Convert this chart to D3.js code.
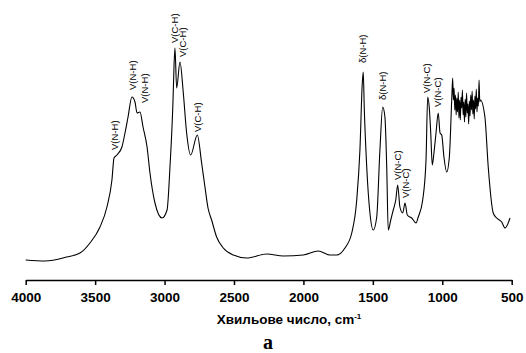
<!DOCTYPE html>
<html>
<head>
<meta charset="utf-8">
<script src="https://cdn.jsdelivr.net/npm/d3@7"></script>
<style>
  html, body { margin: 0; padding: 0; background: #fff; }
  svg { display: block; font-family: Arial, "Liberation Sans", sans-serif; }
</style>
</head>
<body>
<svg id="chart"></svg>
<script>
// wavenumber (cm-1) and relative intensity
const wavenumbers = [
  4000, 3860, 3705, 3609, 3537, 3465, 3415, 3379, 3364, 3343, 3307, 3285, 3263, 3235, 3213, 3198,
  3177, 3155, 3126, 3105, 3069, 3018, 2982, 2961, 2939, 2932, 2925, 2913, 2889, 2865, 2841, 2812,
  2764, 2733, 2709, 2687, 2661, 2625, 2577, 2505, 2408, 2264, 2145, 2001, 1893, 1809, 1760, 1701,
  1652, 1616, 1593, 1576, 1569, 1562, 1544, 1521, 1497, 1472, 1449, 1429, 1413, 1400, 1389, 1371,
  1353, 1335, 1321, 1305, 1285, 1268, 1252, 1220, 1189, 1173, 1141, 1117, 1105, 1094, 1083, 1072,
  1060, 1045, 1029, 1016, 1004, 988, 968, 949, 932, 925,
  920, 915, 910, 905, 900, 895, 890, 885, 880, 875, 870, 865, 860, 855, 850, 845, 840, 835, 830,
  825, 820, 815, 810, 805, 800, 795, 790, 785, 780, 775, 770, 765, 760, 755, 750, 745, 740, 735,
  730, 725, 693, 669, 633, 608, 572, 548, 512
];
const intensity = [
  5, 4, 8, 12, 22, 38, 58, 85, 107, 110, 118, 132, 148, 168, 163, 152,
  153, 138, 118, 92, 62, 47, 55, 98, 165, 198, 217, 177, 203, 172, 132, 110,
  130, 102, 78, 57, 45, 28, 17, 10, 7, 11, 9, 10, 14, 10, 10, 17,
  32, 65, 115, 182, 193, 158, 98, 52, 35, 48, 115, 158, 148, 98, 35, 45,
  55, 65, 80, 58, 52, 62, 50, 47, 42, 48, 65, 105, 168, 158, 132, 100,
  112, 132, 152, 132, 130, 108, 93, 108, 165, 187,
  165, 177, 155, 170, 150, 167, 153, 173, 147, 165, 145, 168, 157, 175, 150, 163, 143, 166, 148,
  172, 152, 161, 141, 164, 149, 170, 155, 174, 151, 165, 146, 169, 156, 176, 153, 167, 159, 185,
  163, 165, 148, 98, 52, 47, 43, 37, 47
];

// band assignments
const bandLabels = ["V(N-H)", "V(N-H)", "V(N-H)", "V(C-H)", "V(C-H)", "V(C-H)",
  "δ(N-H)", "δ(N-H)", "V(N-C)", "V(N-C)", "V(N-C)", "V(N-C)"];
const bandWn = [3357, 3227, 3141, 2928, 2867, 2759, 1571, 1427, 1319, 1261, 1110, 1031];
const bandY = [115, 175, 162, 222, 208, 133, 202, 165, 85, 67, 172, 158];

const xTicks = [4000, 3500, 3000, 2500, 2000, 1500, 1000, 500];

const width = 526;
const height = 353;

const svg = d3.select('#chart')
  .attr('width', width)
  .attr('height', height);

const x = d3.scaleLinear()
  .domain([4000, 500])
  .range([25.7, 511.7]);

const y = d3.scaleLinear()
  .domain([0, 250])
  .range([265, 15]);

const data = wavenumbers.map((w, i) => ({ wn: w, v: intensity[i] }));

const line = d3.line()
  .x(d => x(d.wn))
  .y(d => y(d.v))
  .curve(d3.curveMonotoneX);

svg.append('path')
  .datum(data)
  .attr('fill', 'none')
  .attr('stroke', '#000')
  .attr('stroke-width', 1.1)
  .attr('stroke-linejoin', 'round')
  .attr('d', line);

// peak labels, rotated
svg.selectAll('.band')
  .data(bandLabels)
  .enter()
  .append('text')
  .attr('class', 'band')
  .attr('transform', (d, i) => `translate(${x(bandWn[i])},${y(bandY[i])}) rotate(-90)`)
  .attr('dy', '0.35em')
  .attr('text-anchor', 'start')
  .style('font-size', '9.5px')
  .attr('fill', '#000')
  .text(d => d);

// x axis
const axis = svg.append('g')
  .attr('transform', 'translate(0,280)')
  .call(d3.axisBottom(x).tickValues(xTicks).tickSize(5).tickSizeOuter(0).tickPadding(7).tickFormat(d3.format('d')));

axis.select('.domain').attr('stroke-width', 1.5);
axis.selectAll('.tick line').attr('stroke-width', 1.5);
axis.selectAll('.tick text')
  .style('font-size', '13.5px')
  .style('font-weight', 'bold')
  .attr('fill', '#000')
  .attr('font-family', 'Arial, "Liberation Sans", sans-serif');

const title = svg.append('text')
  .attr('x', 289)
  .attr('y', 324)
  .attr('text-anchor', 'middle')
  .style('font-size', '13.5px')
  .style('font-weight', 'bold');
title.append('tspan').text('Хвильове число, cm');
title.append('tspan').attr('dy', -5).style('font-size', '8px').text('-1');

svg.append('text')
  .attr('x', 268)
  .attr('y', 349)
  .attr('text-anchor', 'middle')
  .style('font-family', '"Liberation Serif", "DejaVu Serif", serif')
  .style('font-size', '20px')
  .style('font-weight', 'bold')
  .text('a');
</script>
</body>
</html>
